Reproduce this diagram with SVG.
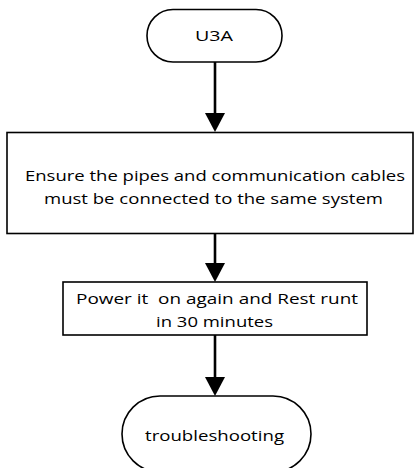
<svg xmlns="http://www.w3.org/2000/svg" width="416" height="468" viewBox="0 0 416 468">
<style>
.shape{fill:#fff;stroke:#000;stroke-width:1.6}
.lbl{font-family:"Open Sans","Liberation Sans",sans-serif;font-size:15px;fill:#000}
.conn line{stroke:#000;stroke-width:2.6}
.conn polygon{fill:#000}
</style>
<rect width="416" height="468" fill="#fff"/>
<g id="connectors" class="conn">
<line x1="215" y1="62" x2="215" y2="114"/>
<polygon points="205,113 225,113 215,132"/>
<line x1="215" y1="233" x2="215" y2="264"/>
<polygon points="205,263 225,263 215,282"/>
<line x1="215" y1="335" x2="215" y2="378"/>
<polygon points="205,377 225,377 215,396"/>
</g>
<g id="node-u3a">
<rect class="shape" x="147" y="9.5" width="135" height="52.5" rx="26" ry="26"/>
<text class="lbl" x="195" y="41" textLength="38" lengthAdjust="spacingAndGlyphs">U3A</text>
</g>
<g id="node-ensure">
<rect class="shape" x="7" y="132.5" width="406" height="101"/>
<text class="lbl" x="25" y="181" textLength="380" lengthAdjust="spacingAndGlyphs">Ensure the pipes and communication cables</text>
<text class="lbl" x="44" y="204" textLength="339" lengthAdjust="spacingAndGlyphs">must be connected to the same system</text>
</g>
<g id="node-power">
<rect class="shape" x="63" y="282" width="304" height="53"/>
<text class="lbl" x="76" y="303.5" textLength="282" lengthAdjust="spacingAndGlyphs" xml:space="preserve">Power it  on again and Rest runt</text>
<text class="lbl" x="156" y="327" textLength="117" lengthAdjust="spacingAndGlyphs">in 30 minutes</text>
</g>
<g id="node-troubleshooting">
<rect class="shape" x="122" y="396" width="189" height="76" rx="38" ry="38"/>
<text class="lbl" x="145" y="441" textLength="139" lengthAdjust="spacingAndGlyphs">troubleshooting</text>
</g>
</svg>
